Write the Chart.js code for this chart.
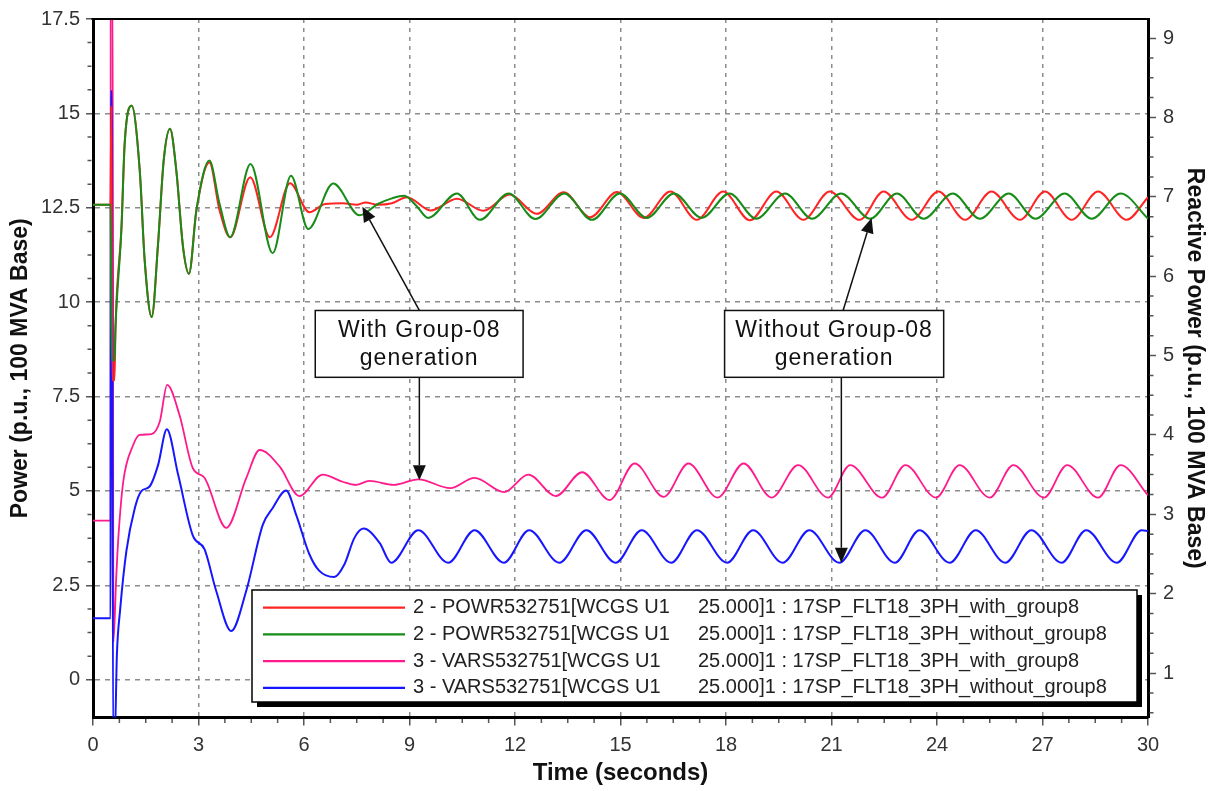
<!DOCTYPE html>
<html>
<head>
<meta charset="utf-8">
<script src="https://cdn.jsdelivr.net/npm/chart.js@4.4.1/dist/chart.umd.min.js"></script>
<style>
  html, body { margin: 0; padding: 0; background: #fff; }
  canvas { display: block; }
</style>
</head>
<body>
<canvas id="chart" width="1210" height="791"></canvas>
<script>
// WCGS U1 response to fault 17SP_FLT18_3PH, with and without Group-08 generation.
// Time in seconds; POWR in p.u. (left axis), VARS in p.u. (right axis), 100 MVA base.

const powrWithT = [0, 0.5, 0.52, 0.55, 0.61, 0.64, 0.81, 0.9, 1.1, 1.33, 1.47, 1.67, 1.85, 2.01, 2.19, 2.37, 2.56, 2.73, 2.94, 3.31, 3.6, 3.9, 4.47, 5.03, 5.6, 6.15, 6.6, 7.1, 7.5, 7.75, 8.1, 8.5, 8.93, 9.6, 10.35, 11.1, 11.85, 12.62, 13.38, 14.14, 14.9, 15.66, 16.42, 17.17, 17.92, 18.68, 19.43, 20.2, 20.95, 21.8, 22.48, 23.28, 24.04, 24.8, 25.55, 26.36, 27.07, 27.83, 28.58, 29.39, 30];
const powrWithV = [12.58, 12.58, 15.2, 7.93, 7.93, 9.34, 11.98, 14.19, 15.2, 13.48, 11.1, 9.61, 11.55, 13.75, 14.59, 13.48, 11.46, 10.75, 12.43, 13.7, 12.43, 11.72, 13.31, 11.72, 13.15, 12.38, 12.6, 12.62, 12.58, 12.64, 12.58, 12.62, 12.78, 12.43, 12.74, 12.42, 12.85, 12.34, 12.91, 12.25, 12.92, 12.23, 12.93, 12.18, 12.93, 12.17, 12.93, 12.18, 12.93, 12.18, 12.93, 12.18, 12.93, 12.18, 12.93, 12.18, 12.93, 12.18, 12.93, 12.18, 12.78];

const powrWithoutT = [0, 0.5, 0.53, 0.61, 0.64, 0.81, 0.9, 1.1, 1.33, 1.47, 1.67, 1.85, 2.01, 2.19, 2.37, 2.56, 2.73, 2.94, 3.31, 3.6, 3.9, 4.48, 5.11, 5.63, 6.12, 6.83, 7.58, 8.1, 8.5, 8.85, 9.2, 9.53, 10.35, 11.0, 11.82, 12.58, 13.4, 14.19, 14.98, 15.75, 16.52, 17.31, 18.1, 18.86, 19.68, 20.45, 21.27, 22.1, 22.86, 23.62, 24.45, 25.22, 26.04, 26.8, 27.63, 28.4, 29.22, 30];
const powrWithoutV = [12.58, 12.58, 8.46, 8.46, 9.34, 11.98, 14.19, 15.2, 13.48, 11.1, 9.61, 11.55, 13.75, 14.59, 13.48, 11.46, 10.75, 12.43, 13.75, 12.6, 11.72, 13.66, 11.3, 13.35, 11.94, 13.14, 12.3, 12.6, 12.75, 12.82, 12.55, 12.23, 12.88, 12.18, 12.88, 12.2, 12.88, 12.18, 12.88, 12.23, 12.88, 12.23, 12.88, 12.21, 12.88, 12.21, 12.88, 12.21, 12.88, 12.21, 12.88, 12.21, 12.88, 12.21, 12.88, 12.21, 12.88, 12.21];

const varsWithT = [0, 0.5, 0.505, 0.56, 0.58, 0.66, 0.72, 0.86, 1.14, 1.33, 1.66, 1.9, 2.11, 2.46, 2.84, 3.17, 3.79, 4.36, 4.74, 5.31, 5.87, 6.53, 7.1, 7.48, 7.86, 8.55, 9.25, 10.16, 10.85, 11.69, 12.38, 13.16, 13.91, 14.69, 15.4, 16.23, 16.93, 17.76, 18.5, 19.3, 20.05, 20.9, 21.53, 22.44, 23.1, 23.97, 24.64, 25.5, 26.17, 27.04, 27.7, 28.58, 29.22, 30];
const varsWithV = [2.92, 2.92, 9.6, 9.6, 1.39, 2.2, 2.7, 3.41, 3.87, 4.0, 4.01, 4.17, 4.63, 4.25, 3.58, 3.46, 2.83, 3.46, 3.81, 3.6, 3.23, 3.5, 3.41, 3.37, 3.42, 3.37, 3.44, 3.33, 3.46, 3.28, 3.5, 3.23, 3.53, 3.18, 3.64, 3.22, 3.64, 3.21, 3.64, 3.21, 3.62, 3.21, 3.62, 3.21, 3.62, 3.21, 3.62, 3.21, 3.62, 3.21, 3.62, 3.21, 3.62, 3.24];

const varsWithoutT = [0, 0.5, 0.505, 0.54, 0.57, 0.62, 0.68, 0.77, 0.95, 1.19, 1.37, 1.61, 1.85, 2.1, 2.42, 2.84, 3.17, 3.5, 3.93, 4.36, 4.83, 5.11, 5.49, 5.78, 6.15, 6.43, 6.86, 7.15, 7.43, 7.69, 8.15, 8.48, 9.25, 10.1, 10.85, 11.68, 12.4, 13.26, 14.03, 14.86, 15.6, 16.44, 17.17, 18.03, 18.77, 19.61, 20.37, 21.22, 21.96, 22.8, 23.5, 24.36, 25.1, 25.94, 26.68, 27.54, 28.24, 29.11, 29.82, 30];
const varsWithoutV = [1.69, 1.69, 8.33, 8.33, 0.2, 0.2, 1.24, 1.79, 2.54, 3.08, 3.29, 3.35, 3.62, 4.07, 3.5, 2.73, 2.56, 2.04, 1.53, 2.04, 2.87, 3.08, 3.3, 2.99, 2.5, 2.29, 2.21, 2.37, 2.7, 2.82, 2.64, 2.39, 2.8, 2.39, 2.8, 2.39, 2.8, 2.39, 2.8, 2.39, 2.8, 2.39, 2.8, 2.39, 2.8, 2.39, 2.8, 2.39, 2.8, 2.39, 2.8, 2.39, 2.8, 2.39, 2.8, 2.39, 2.8, 2.39, 2.8, 2.79];

// Labelled tick values on each axis
const timeTickLabels = [0, 3, 6, 9, 12, 15, 18, 21, 24, 27, 30];
const powerTickLabels = [0, 2.5, 5, 7.5, 10, 12.5, 15, 17.5];
const reactiveTickLabels = [1, 2, 3, 4, 5, 6, 7, 8, 9];

// Legend text: channel name and run name
const legendChannels = [
  '2 - POWR532751[WCGS U1',
  '2 - POWR532751[WCGS U1',
  '3 - VARS532751[WCGS U1',
  '3 - VARS532751[WCGS U1'
];
const legendRuns = [
  '25.000]1 : 17SP_FLT18_3PH_with_group8',
  '25.000]1 : 17SP_FLT18_3PH_without_group8',
  '25.000]1 : 17SP_FLT18_3PH_with_group8',
  '25.000]1 : 17SP_FLT18_3PH_without_group8'
];

const FONT = "'Liberation Sans', Arial, sans-serif";
const TRANSPARENT = 'rgba(0,0,0,0)';
const GRID = '#8c8c8c';
const TICK = '#555';

const toPoints = (ts, vs) => ts.map((t, i) => ({ x: t, y: vs[i] }));
const inList = (list, v) => list.some(l => Math.abs(l - v) < 1e-6);
const fmt = v => String(Math.round(v * 1000) / 1000);

function series(label, ts, vs, color, axis, order, width) {
  return {
    label,
    data: toPoints(ts, vs),
    yAxisID: axis,
    borderColor: color,
    backgroundColor: color,
    borderWidth: width,
    pointRadius: 0,
    fill: false,
    cubicInterpolationMode: 'monotone',
    order
  };
}

const datasets = [
  series('POWR with_group8', powrWithT, powrWithV, '#ff2424', 'y', 1, 2),
  series('POWR without_group8', powrWithoutT, powrWithoutV, '#178c17', 'y', 0, 2),
  series('VARS with_group8', varsWithT, varsWithV, '#ff1a8c', 'y2', 3, 1.8),
  series('VARS without_group8', varsWithoutT, varsWithoutV, '#1616ff', 'y2', 2, 2)
];

function arrow(ctx, x0, y0, x1, y1) {
  const ang = Math.atan2(y1 - y0, x1 - x0);
  const L = 15, W = 6.5;
  const bx = x1 - L * Math.cos(ang), by = y1 - L * Math.sin(ang);
  ctx.beginPath();
  ctx.moveTo(x0, y0);
  ctx.lineTo(bx, by);
  ctx.stroke();
  ctx.beginPath();
  ctx.moveTo(x1, y1);
  ctx.lineTo(bx + W * Math.sin(ang), by - W * Math.cos(ang));
  ctx.lineTo(bx - W * Math.sin(ang), by + W * Math.cos(ang));
  ctx.closePath();
  ctx.fill();
}

// Minor ticks, top frame, callouts and the boxed legend
const decorations = {
  id: 'decorations',
  afterDraw(chart) {
    const { ctx, chartArea: a, scales } = chart;
    const { x, y, y2 } = scales;
    ctx.save();

    // minor tick marks
    ctx.strokeStyle = TICK;
    ctx.lineWidth = 1.5;
    ctx.beginPath();
    x.ticks.forEach(t => {
      if (inList(timeTickLabels, t.value)) return;
      const px = x.getPixelForValue(t.value);
      ctx.moveTo(px, a.bottom + 1.5); ctx.lineTo(px, a.bottom + 5.5);
    });
    y.ticks.forEach(t => {
      if (inList(powerTickLabels, t.value) || t.value <= y.min) return;
      const py = y.getPixelForValue(t.value);
      ctx.moveTo(a.left - 1.5, py); ctx.lineTo(a.left - 5.5, py);
    });
    y2.ticks.forEach(t => {
      if (inList(reactiveTickLabels, t.value)) return;
      const py = y2.getPixelForValue(t.value);
      ctx.moveTo(a.right + 1.5, py); ctx.lineTo(a.right + 5.5, py);
    });
    ctx.stroke();

    // top frame line
    ctx.strokeStyle = '#000';
    ctx.lineWidth = 2;
    ctx.beginPath();
    ctx.moveTo(a.left - 1.5, a.top);
    ctx.lineTo(a.right + 1.5, a.top);
    ctx.stroke();

    // callout boxes with arrows
    const notes = [
      { lines: ['With Group-08', 'generation'], t0: 6.32, t1: 12.23, tail: 9.28,
        tips: [{ t: 7.66, v: 12.53, axis: y, from: 'top' }, { t: 9.28, v: 3.43, axis: y2, from: 'bottom' }] },
      { lines: ['Without Group-08', 'generation'], t0: 17.96, t1: 24.19, tail: 21.33,
        tips: [{ t: 22.14, v: 12.23, axis: y, from: 'top' }, { t: 21.28, v: 2.39, axis: y2, from: 'bottom' }] }
    ];
    const boxTop = y.getPixelForValue(9.78);
    const boxBottom = y.getPixelForValue(8.01);
    ctx.lineWidth = 1.5;
    ctx.strokeStyle = '#111';
    ctx.fillStyle = '#111';
    notes.forEach(n => {
      n.tips.forEach(tp => {
        const tx = x.getPixelForValue(tp.from === 'top' ? n.tail : tp.t);
        const ty = tp.from === 'top' ? boxTop : boxBottom;
        arrow(ctx, tx, ty, x.getPixelForValue(tp.t), tp.axis.getPixelForValue(tp.v));
      });
      const bx0 = x.getPixelForValue(n.t0), bx1 = x.getPixelForValue(n.t1);
      ctx.fillStyle = '#fff';
      ctx.fillRect(bx0, boxTop, bx1 - bx0, boxBottom - boxTop);
      ctx.strokeRect(bx0, boxTop, bx1 - bx0, boxBottom - boxTop);
      ctx.fillStyle = '#111';
      ctx.font = '23px ' + FONT;
      ctx.textAlign = 'center';
      ctx.textBaseline = 'alphabetic';
      if ('letterSpacing' in ctx) ctx.letterSpacing = '1px';
      const cx = (bx0 + bx1) / 2;
      ctx.fillText(n.lines[0], cx, boxTop + 27);
      ctx.fillText(n.lines[1], cx, boxTop + 54.5);
      if ('letterSpacing' in ctx) ctx.letterSpacing = '0px';
    });

    // legend box with drop shadow
    const lx = 252, ly = 590, lw = 885, lh = 112;
    ctx.fillStyle = '#000';
    ctx.fillRect(lx + 5, ly + 5, lw, lh);
    ctx.fillStyle = '#fff';
    ctx.fillRect(lx, ly, lw, lh);
    ctx.strokeStyle = '#000';
    ctx.lineWidth = 1.5;
    ctx.strokeRect(lx, ly, lw, lh);
    ctx.font = '20px ' + FONT;
    ctx.textAlign = 'left';
    ctx.textBaseline = 'middle';
    chart.data.datasets.forEach((ds, i) => {
      const ry = ly + 17.7 + i * 26.7;
      ctx.strokeStyle = ds.borderColor;
      ctx.lineWidth = 2.2;
      ctx.beginPath();
      ctx.moveTo(lx + 11, ry);
      ctx.lineTo(lx + 153, ry);
      ctx.stroke();
      ctx.fillStyle = '#222';
      ctx.fillText(legendChannels[i], lx + 161, ry);
      ctx.fillText(legendRuns[i], lx + 446, ry);
    });
    ctx.restore();
  }
};

const tickFont = { family: FONT, size: 20 };
const titleFont = { family: FONT, size: 23, weight: 'bold' };

new Chart(document.getElementById('chart'), {
  type: 'line',
  data: { datasets },
  plugins: [decorations],
  options: {
    responsive: false,
    animation: false,
    events: [],
    layout: { padding: { top: 18, left: 0, right: 0, bottom: 0 } },
    plugins: { legend: { display: false }, tooltip: { enabled: false } },
    scales: {
      x: {
        type: 'linear',
        min: 0, max: 30,
        afterFit: s => { s.height = 73.5; },
        ticks: {
          stepSize: 0.75, autoSkip: false, maxRotation: 0, padding: 8,
          font: tickFont, color: '#333',
          callback: v => inList(timeTickLabels, v) ? fmt(v) : ''
        },
        grid: {
          lineWidth: 1.5,
          color: c => (c.tick && inList(timeTickLabels, c.tick.value) && c.tick.value > 0 && c.tick.value < 30) ? GRID : TRANSPARENT,
          tickLength: 8, tickWidth: 1.5,
          tickColor: c => (c.tick && inList(timeTickLabels, c.tick.value)) ? TICK : TRANSPARENT
        },
        border: { color: '#000', width: 3, dash: [4, 5] },
        title: { display: true, text: 'Time (seconds)', font: { family: FONT, size: 24, weight: 'bold' }, color: '#111', padding: { top: 0, bottom: 3 } }
      },
      y: {
        position: 'left',
        min: -1, max: 17.5,
        afterFit: s => { s.width = 93; },
        ticks: {
          stepSize: 0.625, autoSkip: false, padding: 6,
          font: tickFont, color: '#333',
          callback: v => inList(powerTickLabels, v) ? fmt(v) : ''
        },
        grid: {
          lineWidth: 1.5,
          color: c => (c.tick && inList(powerTickLabels, c.tick.value) && c.tick.value < 17.5) ? GRID : TRANSPARENT,
          tickLength: 7, tickWidth: 1.5,
          tickColor: c => (c.tick && inList(powerTickLabels, c.tick.value)) ? TICK : TRANSPARENT
        },
        border: { color: '#000', width: 3, dash: [5, 5] },
        title: { display: true, text: 'Power (p.u., 100 MVA Base)', font: titleFont, color: '#111', padding: { top: 6.5, bottom: 0 } }
      },
      y2: {
        position: 'right',
        min: 0.44, max: 9.24,
        afterFit: s => { s.width = 62; },
        ticks: {
          stepSize: 0.25, autoSkip: false, includeBounds: false, padding: 7,
          font: tickFont, color: '#333',
          callback: v => inList(reactiveTickLabels, v) ? fmt(v) : ''
        },
        grid: {
          drawOnChartArea: false,
          tickLength: 8, tickWidth: 1.5,
          tickColor: c => (c.tick && inList(reactiveTickLabels, c.tick.value)) ? TICK : TRANSPARENT
        },
        border: { color: '#000', width: 3 },
        title: { display: true, text: 'Reactive Power (p.u., 100 MVA Base)', font: titleFont, color: '#111', padding: { top: 1.5, bottom: 0 } }
      }
    }
  }
});
</script>
</body>
</html>
